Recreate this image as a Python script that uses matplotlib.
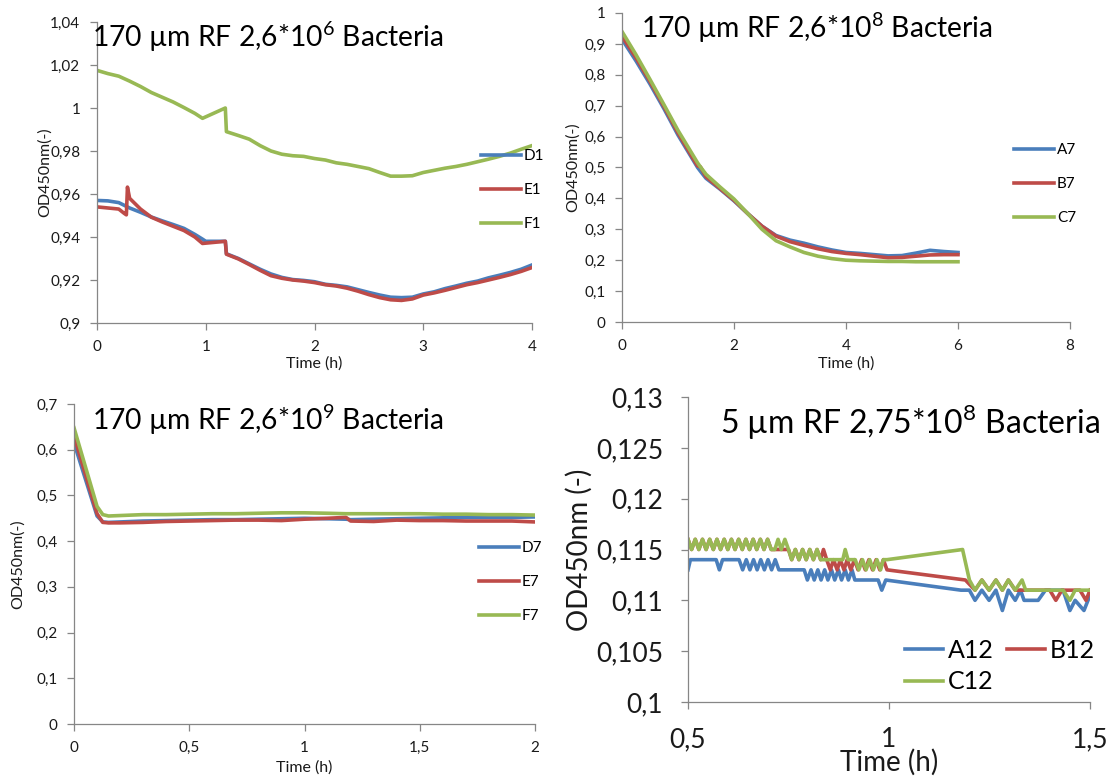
import matplotlib.pyplot as plt
from matplotlib.ticker import FuncFormatter, MultipleLocator

W, H = 1109, 778
FONT = "Lato"
plt.rcParams["font.family"] = FONT
plt.rcParams["mathtext.fontset"] = "custom"
plt.rcParams["mathtext.rm"] = FONT

BLUE, RED, GREEN = "#4A7EBB", "#BE4B48", "#98B954"
AXIS_GREY = "#868686"

# --- 170 um RF, 2.6e6 bacteria -------------------------------------------
t_d1 = [0.0, 0.1, 0.2, 0.3, 0.4, 0.5, 0.6, 0.7, 0.8, 0.9, 0.97, 1.0, 1.18, 1.19,
        1.3, 1.4, 1.5, 1.6, 1.7, 1.8, 1.9, 2.0, 2.1, 2.2, 2.3, 2.4, 2.5, 2.6,
        2.7, 2.8, 2.9, 3.0, 3.1, 3.2, 3.3, 3.4, 3.5, 3.6, 3.7, 3.8, 3.9, 4.0]
od_d1 = [0.9570, 0.9568, 0.9560, 0.9535, 0.9515, 0.9493, 0.9475, 0.9458, 0.9440,
         0.9412, 0.9390, 0.9380, 0.9380, 0.9322, 0.9300, 0.9275, 0.9250, 0.9228,
         0.9212, 0.9202, 0.9198, 0.9192, 0.9180, 0.9175, 0.9168, 0.9155, 0.9142,
         0.9130, 0.9120, 0.9118, 0.9120, 0.9135, 0.9145, 0.9160, 0.9172, 0.9185,
         0.9195, 0.9210, 0.9222, 0.9235, 0.9250, 0.9270]
t_e1 = [0.0, 0.1, 0.2, 0.25, 0.27, 0.28, 0.3, 0.35, 0.4, 0.5, 0.6, 0.7, 0.8, 0.9,
        0.97, 1.18, 1.19, 1.3, 1.4, 1.5, 1.6, 1.7, 1.8, 1.9, 2.0, 2.1, 2.2, 2.3,
        2.4, 2.5, 2.6, 2.7, 2.8, 2.9, 3.0, 3.1, 3.2, 3.3, 3.4, 3.5, 3.6, 3.7,
        3.8, 3.9, 4.0]
od_e1 = [0.9540, 0.9535, 0.9530, 0.9510, 0.9503, 0.9632, 0.9580, 0.9555, 0.9530,
         0.9492, 0.9470, 0.9450, 0.9430, 0.9400, 0.9370, 0.9380, 0.9320, 0.9298,
         0.9272, 0.9245, 0.9220, 0.9208, 0.9200, 0.9195, 0.9188, 0.9178, 0.9172,
         0.9162, 0.9148, 0.9132, 0.9118, 0.9108, 0.9105, 0.9112, 0.9130, 0.9140,
         0.9152, 0.9165, 0.9178, 0.9188, 0.9200, 0.9212, 0.9225, 0.9240, 0.9258]
t_f1 = [0.0, 0.1, 0.2, 0.3, 0.4, 0.5, 0.6, 0.7, 0.8, 0.9, 0.97, 1.18, 1.19, 1.3,
        1.4, 1.5, 1.6, 1.7, 1.8, 1.9, 2.0, 2.1, 2.2, 2.3, 2.4, 2.5, 2.6, 2.7,
        2.8, 2.9, 3.0, 3.1, 3.2, 3.3, 3.4, 3.5, 3.6, 3.7, 3.8, 3.9, 4.0]
od_f1 = [1.0175, 1.0160, 1.0148, 1.0125, 1.0100, 1.0072, 1.0050, 1.0028, 1.0002,
         0.9975, 0.9952, 1.0000, 0.9890, 0.9872, 0.9855, 0.9825, 0.9800, 0.9785,
         0.9778, 0.9775, 0.9765, 0.9758, 0.9745, 0.9738, 0.9728, 0.9718, 0.9700,
         0.9683, 0.9683, 0.9685, 0.9700, 0.9710, 0.9720, 0.9728, 0.9738, 0.9750,
         0.9762, 0.9775, 0.9790, 0.9808, 0.9825]

# --- 170 um RF, 2.6e8 bacteria -------------------------------------------
t_row7 = [0.0, 0.25, 0.5, 0.75, 1.0, 1.25, 1.35, 1.4, 1.5, 1.75, 2.0, 2.25, 2.5,
          2.75, 3.0, 3.25, 3.5, 3.75, 4.0, 4.25, 4.5, 4.75, 5.0, 5.25, 5.5,
          5.75, 6.0]
od_a7 = [0.915, 0.845, 0.770, 0.690, 0.605, 0.530, 0.500, 0.488, 0.465, 0.430,
         0.392, 0.350, 0.310, 0.280, 0.265, 0.255, 0.243, 0.233, 0.225, 0.222,
         0.218, 0.214, 0.215, 0.223, 0.232, 0.228, 0.225]
od_b7 = [0.925, 0.855, 0.778, 0.697, 0.612, 0.535, 0.505, 0.502, 0.470, 0.432,
         0.394, 0.350, 0.310, 0.278, 0.260, 0.248, 0.237, 0.228, 0.222, 0.218,
         0.213, 0.208, 0.209, 0.213, 0.217, 0.218, 0.218]
od_c7 = [0.940, 0.865, 0.785, 0.703, 0.620, 0.545, 0.515, 0.502, 0.478, 0.437,
         0.398, 0.350, 0.300, 0.263, 0.243, 0.225, 0.213, 0.205, 0.200, 0.198,
         0.197, 0.196, 0.196, 0.195, 0.195, 0.195, 0.195]

# --- 170 um RF, 2.6e9 bacteria -------------------------------------------
t_row7b = [0.0, 0.05, 0.1, 0.125, 0.15, 0.2, 0.3, 0.4, 0.5, 0.6, 0.7, 0.8, 0.9,
           1.0, 1.1, 1.18, 1.2, 1.3, 1.4, 1.5, 1.6, 1.7, 1.8, 1.9, 2.0]
od_d7 = [0.615, 0.535, 0.455, 0.442, 0.441, 0.442, 0.444, 0.445, 0.446, 0.447,
         0.447, 0.448, 0.449, 0.450, 0.449, 0.448, 0.447, 0.448, 0.449, 0.450,
         0.451, 0.452, 0.452, 0.452, 0.453]
od_e7 = [0.630, 0.545, 0.460, 0.441, 0.440, 0.440, 0.441, 0.443, 0.444, 0.445,
         0.446, 0.446, 0.445, 0.448, 0.450, 0.452, 0.444, 0.443, 0.446, 0.445,
         0.445, 0.444, 0.444, 0.444, 0.442]
od_f7 = [0.648, 0.562, 0.476, 0.458, 0.455, 0.456, 0.458, 0.458, 0.459, 0.460,
         0.460, 0.461, 0.462, 0.462, 0.461, 0.460, 0.460, 0.460, 0.460, 0.460,
         0.459, 0.459, 0.458, 0.458, 0.457]

# --- 5 um RF, 2.75e8 bacteria --------------------------------------------
t_a12 = [0.500, 0.506, 0.570, 0.578, 0.586, 0.627, 0.636, 0.645, 0.654, 0.663,
         0.672, 0.681, 0.690, 0.699, 0.708, 0.717, 0.726, 0.735, 0.789, 0.797,
         0.806, 0.814, 0.823, 0.831, 0.840, 0.848, 0.857, 0.865, 0.874, 0.882,
         0.891, 0.899, 0.908, 0.915, 0.973, 0.982, 0.992, 1.179, 1.200, 1.214,
         1.231, 1.249, 1.266, 1.282, 1.297, 1.314, 1.327, 1.336, 1.371, 1.389,
         1.433, 1.450, 1.463, 1.485, 1.500]
od_a12 = [0.113, 0.114, 0.114, 0.113, 0.114, 0.114, 0.113, 0.114, 0.113, 0.114,
          0.113, 0.114, 0.113, 0.114, 0.113, 0.114, 0.113, 0.113, 0.113, 0.112,
          0.113, 0.112, 0.113, 0.112, 0.113, 0.112, 0.113, 0.112, 0.113, 0.112,
          0.113, 0.112, 0.113, 0.112, 0.112, 0.111, 0.112, 0.111, 0.111, 0.110,
          0.111, 0.110, 0.111, 0.109, 0.111, 0.110, 0.111, 0.110, 0.110, 0.111,
          0.111, 0.109, 0.110, 0.109, 0.1105]
t_b12 = [0.500, 0.509, 0.518, 0.527, 0.536, 0.545, 0.554, 0.563, 0.572, 0.581,
         0.590, 0.599, 0.608, 0.617, 0.626, 0.635, 0.644, 0.653, 0.662, 0.671,
         0.680, 0.689, 0.698, 0.707, 0.750, 0.758, 0.767, 0.776, 0.785, 0.794,
         0.803, 0.812, 0.821, 0.830, 0.837, 0.845, 0.854, 0.862, 0.871, 0.879,
         0.888, 0.896, 0.905, 0.914, 0.923, 0.932, 0.941, 0.950, 0.959, 0.968,
         0.977, 0.986, 0.995, 1.190, 1.214, 1.231, 1.249, 1.266, 1.282, 1.297,
         1.314, 1.400, 1.415, 1.430, 1.475, 1.490, 1.500]
od_b12 = [0.116, 0.115, 0.116, 0.115, 0.116, 0.115, 0.116, 0.115, 0.116, 0.115,
          0.116, 0.115, 0.116, 0.115, 0.116, 0.115, 0.116, 0.115, 0.116, 0.115,
          0.116, 0.115, 0.116, 0.115, 0.115, 0.114, 0.115, 0.114, 0.115, 0.114,
          0.115, 0.114, 0.115, 0.114, 0.115, 0.114, 0.113, 0.114, 0.113, 0.114,
          0.113, 0.114, 0.113, 0.114, 0.113, 0.114, 0.113, 0.114, 0.113, 0.114,
          0.113, 0.114, 0.113, 0.112, 0.111, 0.112, 0.111, 0.112, 0.111, 0.112,
          0.111, 0.111, 0.110, 0.111, 0.111, 0.110, 0.111]
t_c12 = [0.500, 0.509, 0.518, 0.527, 0.536, 0.545, 0.554, 0.563, 0.572, 0.581,
         0.590, 0.599, 0.608, 0.617, 0.626, 0.635, 0.644, 0.653, 0.662, 0.671,
         0.680, 0.689, 0.698, 0.707, 0.716, 0.724, 0.732, 0.741, 0.750, 0.758,
         0.767, 0.776, 0.785, 0.794, 0.803, 0.812, 0.821, 0.830, 0.885, 0.891,
         0.898, 0.916, 0.925, 0.934, 0.943, 0.952, 0.961, 0.970, 0.979, 0.986,
         0.995, 1.183, 1.200, 1.214, 1.231, 1.249, 1.266, 1.282, 1.297, 1.314,
         1.331, 1.340, 1.433, 1.450, 1.463, 1.500]
od_c12 = [0.116, 0.115, 0.116, 0.115, 0.116, 0.115, 0.116, 0.115, 0.116, 0.115,
          0.116, 0.115, 0.116, 0.115, 0.116, 0.115, 0.116, 0.115, 0.116, 0.115,
          0.116, 0.115, 0.116, 0.115, 0.115, 0.116, 0.115, 0.116, 0.115, 0.114,
          0.115, 0.114, 0.115, 0.114, 0.115, 0.114, 0.115, 0.114, 0.114, 0.115,
          0.114, 0.114, 0.113, 0.114, 0.113, 0.114, 0.113, 0.114, 0.113, 0.114,
          0.114, 0.115, 0.112, 0.111, 0.112, 0.111, 0.112, 0.111, 0.112, 0.111,
          0.112, 0.111, 0.111, 0.110, 0.111, 0.111]


def comma(v, pos):
    return f"{round(v, 4):g}".replace(".", ",")


fig = plt.figure(figsize=(W / 100, H / 100), dpi=100)


def add_panel(box):
    # box in pixels: left, top, right, bottom
    left, top, right, bottom = box
    return fig.add_axes([left / W, 1 - bottom / H, (right - left) / W, (bottom - top) / H])


def style(ax, xlim, xstep, ylim, ystep, fs, pad):
    ax.set_xlim(xlim)
    ax.set_ylim(ylim)
    ax.xaxis.set_major_locator(MultipleLocator(xstep))
    ax.yaxis.set_major_locator(MultipleLocator(ystep))
    ax.xaxis.set_major_formatter(FuncFormatter(comma))
    ax.yaxis.set_major_formatter(FuncFormatter(comma))
    for side in ("top", "right"):
        ax.spines[side].set_visible(False)
    for side in ("left", "bottom"):
        ax.spines[side].set_color(AXIS_GREY)
        ax.spines[side].set_linewidth(0.9)
    ax.tick_params(direction="out", length=5, width=0.9, color=AXIS_GREY,
                   labelsize=fs, labelcolor="#1a1a1a", pad=pad)
    ax.patch.set_alpha(0)


def labels(ax, box, xlab, xlab_y, ylab, ylab_x, fs):
    left, top, right, bottom = box
    ax.set_xlabel(xlab, fontsize=fs, va="center", color="#1a1a1a")
    ax.xaxis.set_label_coords(0.5, (bottom - xlab_y) / (bottom - top))
    ax.set_ylabel(ylab, fontsize=fs, va="center", color="#1a1a1a")
    ax.yaxis.set_label_coords((ylab_x - left) / (right - left), 0.5)


def legend(ax, x, y, fs, order=None, ncol=1, spacing=1.3, hl=2.6, colsp=1.0):
    handles, names = ax.get_legend_handles_labels()
    if order is not None:
        handles = [handles[i] for i in order]
        names = [names[i] for i in order]
    ax.legend(handles, names, loc="center left", bbox_to_anchor=(x / W, 1 - y / H),
              bbox_transform=fig.transFigure, frameon=False, fontsize=fs,
              ncol=ncol, handlelength=hl, handletextpad=0.2,
              labelspacing=spacing, columnspacing=colsp,
              borderpad=0, borderaxespad=0)


LW = 2.6

# top left
box1 = (97, 22, 532, 323)
ax1 = add_panel(box1)
ax1.plot(t_d1, od_d1, color=BLUE, lw=LW, label="D1")
ax1.plot(t_e1, od_e1, color=RED, lw=LW, label="E1")
ax1.plot(t_f1, od_f1, color=GREEN, lw=LW, label="F1")
style(ax1, (0, 4), 1, (0.9, 1.04), 0.02, 11, 7)
labels(ax1, box1, "Time (h)", 364, "OD450nm(-)", 45, 11.5)
legend(ax1, 481, 190, 11)
fig.text(92 / W, 1 - 37 / H, r"170 µm RF 2,6*10$^{\mathregular{6}}$ Bacteria",
         fontsize=20.3, va="center", ha="left")

# top right
box2 = (622, 13, 1070, 322)
ax2 = add_panel(box2)
ax2.plot(t_row7, od_a7, color=BLUE, lw=LW, label="A7")
ax2.plot(t_row7, od_b7, color=RED, lw=LW, label="B7")
ax2.plot(t_row7, od_c7, color=GREEN, lw=LW, label="C7")
style(ax2, (0, 8), 2, (0, 1), 0.1, 11, 7)
labels(ax2, box2, "Time (h)", 364, "OD450nm(-)", 573, 11.5)
legend(ax2, 1014, 184, 11)
fig.text(641 / W, 1 - 28 / H, r"170 µm RF 2,6*10$^{\mathregular{8}}$ Bacteria",
         fontsize=20.3, va="center", ha="left")

# bottom left
box3 = (74, 404, 535, 724)
ax3 = add_panel(box3)
ax3.plot(t_row7b, od_d7, color=BLUE, lw=LW, label="D7")
ax3.plot(t_row7b, od_e7, color=RED, lw=LW, label="E7")
ax3.plot(t_row7b, od_f7, color=GREEN, lw=LW, label="F7")
style(ax3, (0, 2), 0.5, (0, 0.7), 0.1, 11, 7)
labels(ax3, box3, "Time (h)", 768, "OD450nm(-)", 18, 11.5)
legend(ax3, 479, 582, 11)
fig.text(92 / W, 1 - 420 / H, r"170 µm RF 2,6*10$^{\mathregular{9}}$ Bacteria",
         fontsize=20.3, va="center", ha="left")

# bottom right
box4 = (688, 397, 1090, 702)
ax4 = add_panel(box4)
ax4.plot(t_a12, od_a12, color=BLUE, lw=LW, label="A12")
ax4.plot(t_b12, od_b12, color=RED, lw=LW, label="B12")
ax4.plot(t_c12, od_c12, color=GREEN, lw=LW, label="C12")
style(ax4, (0.5, 1.5), 0.5, (0.1, 0.13), 0.005, 19, 13)
labels(ax4, box4, "Time (h)", 762, "OD450nm (-)", 579, 20)
legend(ax4, 905, 666, 18, order=[0, 2, 1], ncol=2, spacing=0.35, hl=1.5, colsp=0.55)
fig.text(720 / W, 1 - 422 / H, r"5 µm RF 2,75*10$^{\mathregular{8}}$ Bacteria",
         fontsize=23, va="center", ha="left")

fig.savefig("out.png", dpi=100, facecolor="white")
